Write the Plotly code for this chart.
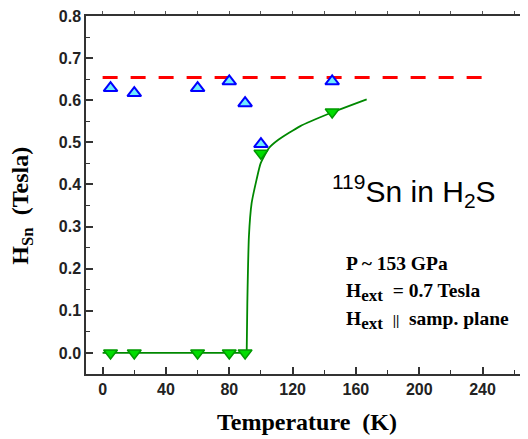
import plotly.graph_objects as go

# ---- data ----
temp_up = [5, 20, 60, 80, 90, 100, 145]
h_up = [0.629, 0.617, 0.629, 0.645, 0.593, 0.496, 0.645]

temp_down = [5, 20, 60, 80, 90, 100, 145]
h_down = [0.0, 0.0, 0.0, 0.0, 0.0, 0.474, 0.572]

# fit curve: flat part below Tc and rising part above
fit_flat_temp = [0, 91.0]
fit_flat_h = [0, 0]
fit_rise_temp = [91.0, 91.4, 92.4, 94.1, 97.2, 99.8, 105, 111, 124.6, 143.6, 166.8]
fit_rise_h = [0, 0.118, 0.276, 0.355, 0.411, 0.45, 0.486, 0.506, 0.538, 0.569, 0.602]

ref_temp = [0, 245]
ref_h = [0.654, 0.654]

x_ticks = [0, 40, 80, 120, 160, 200, 240]
y_ticks = [0.0, 0.1, 0.2, 0.3, 0.4, 0.5, 0.6, 0.7, 0.8]

SERIF = "Liberation Serif, Times New Roman, serif"
SANS = "Liberation Sans, Arial, sans-serif"
FIT_COLOR = "#008800"

fig = go.Figure()

fig.add_trace(go.Scatter(x=ref_temp, y=ref_h, mode="lines",
                         line=dict(color="#ff0000", width=3, dash="15px,13px"),
                         showlegend=False, hoverinfo="skip"))
fig.add_trace(go.Scatter(x=fit_flat_temp, y=fit_flat_h, mode="lines",
                         line=dict(color=FIT_COLOR, width=1.8),
                         showlegend=False, hoverinfo="skip"))
fig.add_trace(go.Scatter(x=fit_rise_temp, y=fit_rise_h, mode="lines",
                         line=dict(color=FIT_COLOR, width=1.8, shape="spline", smoothing=0.5),
                         showlegend=False, hoverinfo="skip"))
fig.add_trace(go.Scatter(x=temp_down, y=h_down, mode="markers",
                         marker=dict(symbol="triangle-down", size=12, color="#00dd00",
                                     line=dict(color="#009900", width=1.5)),
                         showlegend=False))
fig.add_trace(go.Scatter(x=temp_up, y=h_up, mode="markers",
                         marker=dict(symbol="triangle-up", size=12, color="#70ecff",
                                     line=dict(color="#0000ff", width=2)),
                         showlegend=False))
# invisible trace to activate the top axis
fig.add_trace(go.Scatter(x=[None], y=[None], xaxis="x2", showlegend=False, hoverinfo="skip"))

# the page adds an 8px body margin, so the figure is 8px smaller than the window
fig.update_layout(
    width=520, height=431,
    margin=dict(l=78, r=0, t=8, b=65),
    paper_bgcolor="white", plot_bgcolor="white",
    xaxis=dict(range=[-10.5, 268.7], tickvals=x_ticks, ticks="inside", ticklen=7, tickwidth=1.5,
               tickcolor="#333", showline=True, linecolor="#333", linewidth=1.5,
               showgrid=False, zeroline=False, ticklabeloverflow="allow",
               minor=dict(dtick=20, tick0=0, ticks="inside", ticklen=4, tickcolor="#333", tickwidth=1.2),
               tickfont=dict(family=SANS, size=16, color="#222", weight="bold")),
    xaxis2=dict(overlaying="x", side="top", range=[-10.5, 268.7], dtick=20, tick0=0,
                ticks="outside", ticklen=3, tickcolor="#555", showline=True, linecolor="#333",
                linewidth=1.5, showticklabels=False, showgrid=False, zeroline=False),
    yaxis=dict(range=[-0.05, 0.8], tickvals=y_ticks, tickformat=".1f", ticks="inside", ticklen=7,
               tickwidth=1.5, tickcolor="#333", showline=True, linecolor="#333", linewidth=1.5,
               showgrid=False, zeroline=False, ticklabeloverflow="allow",
               minor=dict(dtick=0.05, tick0=0, ticks="inside", ticklen=4, tickcolor="#333", tickwidth=1.2),
               tickfont=dict(family=SANS, size=16, color="#222", weight="bold")),
)

sub_ext = "H<sub><span style='font-size:17px'>ext</span></sub>"
annos = [
    dict(text="Temperature\u00a0 (K)", x=0.5, y=-0.134, xref="paper", yref="paper",
         xanchor="center", yanchor="middle", font=dict(family=SERIF, size=24, weight="bold", color="black")),
    dict(text="H<sub>Sn</sub>\u00a0 (Tesla)", x=-0.145, y=0.47, xref="paper", yref="paper", textangle=-90,
         xanchor="center", yanchor="middle", font=dict(family=SERIF, size=24, weight="bold", color="black")),
    dict(text="<sup>119</sup>Sn in H<sub>2</sub>S", x=(330 - 86) / 442, y=(374 - 191) / 358,
         xref="paper", yref="paper", xanchor="left", yanchor="middle",
         font=dict(family=SANS, size=30, color="black")),
    dict(text="P ~ 153 GPa", x=(344 - 86) / 442, y=(374 - 263) / 358, xref="paper", yref="paper",
         xanchor="left", yanchor="middle", font=dict(family=SERIF, size=19.5, weight="bold", color="black")),
    dict(text=sub_ext + "\u00a0 = 0.7 Tesla", x=(344 - 86) / 442, y=(374 - 292) / 358, xref="paper", yref="paper",
         xanchor="left", yanchor="middle", font=dict(family=SERIF, size=19.5, weight="bold", color="black")),
    dict(text=sub_ext + "\u00a0 <span style='font-size:15px'>||</span>\u00a0 samp. plane",
         x=(344 - 86) / 442, y=(374 - 320) / 358, xref="paper", yref="paper",
         xanchor="left", yanchor="middle", font=dict(family=SERIF, size=19.5, weight="bold", color="black")),
]
for a in annos:
    a["showarrow"] = False
    fig.add_annotation(**a)

fig.write_html("out.html")
